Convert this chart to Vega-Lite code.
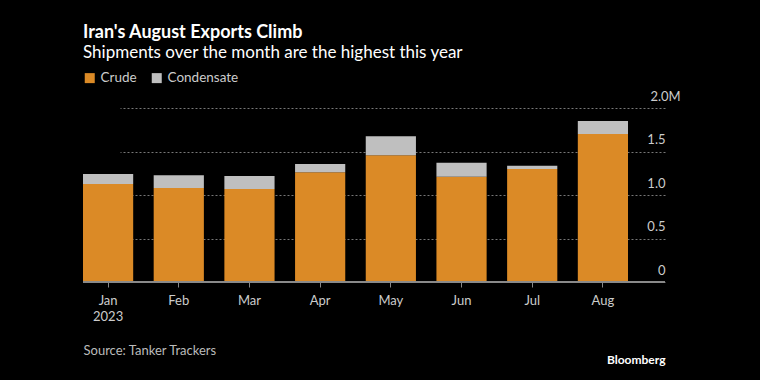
{
  "$schema": "https://vega.github.io/schema/vega-lite/v6.json",
  "width": 582,
  "height": 174,
  "autosize": {"type": "none"},
  "padding": {"left": 83, "top": 108, "right": 95, "bottom": 98},
  "background": "#000000",
  "config": {"view": {"stroke": null}, "font": "Lato"},
  "title": {
    "text": "Iran's August Exports Climb",
    "subtitle": "Shipments over the month are the highest this year",
    "anchor": "start",
    "frame": "group",
    "color": "#ffffff",
    "subtitleColor": "#ffffff",
    "fontSize": 18,
    "fontWeight": "bold",
    "subtitleFontSize": 17,
    "subtitlePadding": 3,
    "offset": 10
  },
  "data": {
    "values": [
      {"month": "Jan", "type": "Crude", "value": 1126000},
      {"month": "Jan", "type": "Condensate", "value": 115000},
      {"month": "Feb", "type": "Crude", "value": 1080000},
      {"month": "Feb", "type": "Condensate", "value": 146000},
      {"month": "Mar", "type": "Crude", "value": 1069000},
      {"month": "Mar", "type": "Condensate", "value": 149000},
      {"month": "Apr", "type": "Crude", "value": 1261000},
      {"month": "Apr", "type": "Condensate", "value": 95000},
      {"month": "May", "type": "Crude", "value": 1456000},
      {"month": "May", "type": "Condensate", "value": 218000},
      {"month": "Jun", "type": "Crude", "value": 1211000},
      {"month": "Jun", "type": "Condensate", "value": 161000},
      {"month": "Jul", "type": "Crude", "value": 1299000},
      {"month": "Jul", "type": "Condensate", "value": 38000},
      {"month": "Aug", "type": "Crude", "value": 1701000},
      {"month": "Aug", "type": "Condensate", "value": 150000}
    ]
  },
  "layer": [
    {
      "mark": {"type": "bar"},
      "encoding": {
        "x": {
          "field": "month",
          "type": "ordinal",
          "sort": ["Jan", "Feb", "Mar", "Apr", "May", "Jun", "Jul", "Aug"],
          "scale": {"range": [0, 545], "paddingInner": 0.29, "paddingOuter": 0},
          "axis": {
            "domain": false,
            "ticks": true,
            "tickColor": "#888888",
            "tickSize": 5,
            "labelColor": "#cccccc",
            "labelFontSize": 13,
            "labelPadding": 7,
            "labelLineHeight": 16,
            "labelExpr": "datum.value == 'Jan' ? ['Jan', '2023'] : datum.value",
            "labelAngle": 0,
            "title": "Source: Tanker Trackers",
            "titleAnchor": "start",
            "titleAlign": "left",
            "titleColor": "#bbbbbb",
            "titleFontSize": 13,
            "titleFontWeight": "normal",
            "titlePadding": 21
          }
        },
        "y": {
          "field": "value",
          "type": "quantitative",
          "stack": "zero",
          "scale": {"domain": [0, 2000000], "nice": false},
          "axis": {
            "orient": "right",
            "values": [0, 500000, 1000000, 1500000, 2000000],
            "grid": true,
            "gridDash": [2, 2],
            "gridColor": "#777777",
            "domain": false,
            "ticks": false,
            "labelAlign": {"condition": {"test": "datum.value == 2000000", "value": "center"}, "value": "right"},
            "labelPadding": 0,
            "labelBaseline": "alphabetic",
            "labelOffset": -8,
            "labelColor": "#cccccc",
            "labelFontSize": 13,
            "labelExpr": "datum.value == 2000000 ? '2.0M' : datum.value == 0 ? '0' : format(datum.value / 1000000, '.1f')",
            "title": "Bloomberg",
            "titleAngle": 0,
            "titleX": 0,
            "titleY": 255,
            "titleAlign": "right",
            "titleBaseline": "alphabetic",
            "titleColor": "#ffffff",
            "titleFontSize": 12,
            "titleFontWeight": "bold"
          }
        },
        "color": {
          "field": "type",
          "type": "nominal",
          "sort": ["Crude", "Condensate"],
          "scale": {"domain": ["Crude", "Condensate"], "range": ["#DB8A26", "#BFBFBF"]},
          "legend": {
            "orient": "top",
            "title": null,
            "symbolType": "square",
            "symbolSize": 100,
            "symbolStrokeWidth": 0,
            "labelColor": "#cccccc",
            "labelFontSize": 13.5,
            "columnPadding": 13,
            "offset": 23
          }
        },
        "order": {"field": "type", "sort": "descending"}
      }
    },
    {
      "mark": {"type": "rule", "color": "#8a8a8a", "strokeWidth": 1.5},
      "encoding": {"y": {"datum": 0}}
    }
  ]
}
